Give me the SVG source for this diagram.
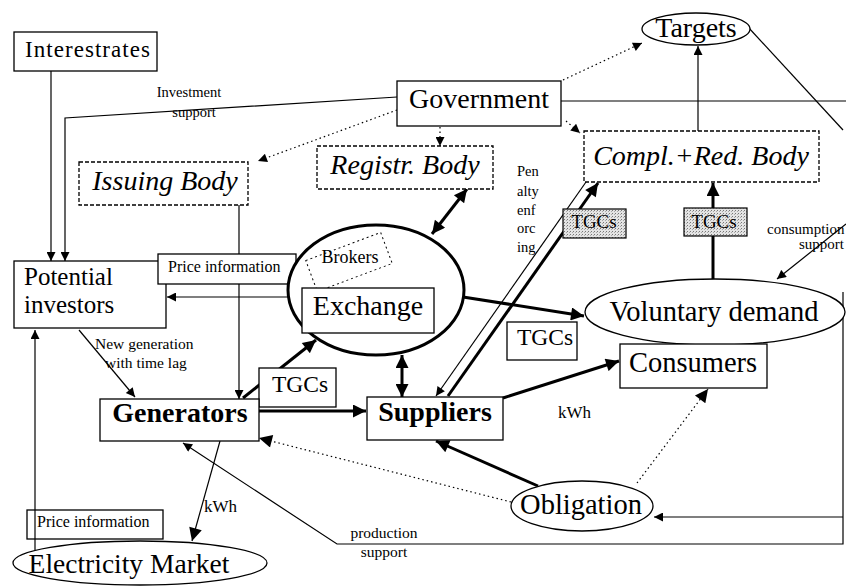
<svg xmlns="http://www.w3.org/2000/svg" width="846" height="586" viewBox="0 0 846 586">
<style>
text{font-family:"Liberation Serif","Times New Roman",serif;fill:#000}
.box{fill:#fff;stroke:#000;stroke-width:1.3}
.dbox{fill:#fff;stroke:#000;stroke-width:1.3;stroke-dasharray:4 2}
.ell{fill:#fff;stroke:#000;stroke-width:1.3}
.thin{fill:none;stroke:#000;stroke-width:1.2}
.thick{fill:none;stroke:#000;stroke-width:3}
.dot{fill:none;stroke:#000;stroke-width:1.2;stroke-dasharray:1.5 3}
.it{font-style:italic}
.b{font-weight:bold}
</style>
<defs>
<marker id="a" viewBox="0 0 10 10" refX="10" refY="5" markerWidth="11" markerHeight="9" markerUnits="userSpaceOnUse" orient="auto-start-reverse"><path d="M0,0 L10,5 L0,10 z"/></marker>
<marker id="A" viewBox="0 0 10 10" refX="10" refY="5" markerWidth="16" markerHeight="13" markerUnits="userSpaceOnUse" orient="auto-start-reverse"><path d="M0,0 L10,5 L0,10 z"/></marker>
<pattern id="sh" width="3" height="3" patternUnits="userSpaceOnUse"><rect width="3" height="3" fill="#e4e4e4"/><rect width="1" height="1" fill="#777"/><rect x="2" y="1" width="1" height="1" fill="#aaa"/></pattern>
</defs>

<g id="connectors">
<line class="thin" x1="51" y1="71" x2="51" y2="261" marker-end="url(#a)"/>
<polyline class="thin" points="397,97 65,118 65,261" marker-end="url(#a)"/>
<line class="dot" x1="397" y1="110" x2="258" y2="161" marker-end="url(#a)"/>
<line class="dot" x1="440" y1="127" x2="440" y2="146" marker-end="url(#a)"/>
<line class="dot" x1="566" y1="121" x2="580" y2="133" marker-end="url(#a)"/>
<line class="dot" x1="563" y1="80" x2="642" y2="43" marker-end="url(#a)"/>
<line class="thin" x1="698" y1="131" x2="698" y2="46" marker-end="url(#a)"/>
<line class="thin" x1="561" y1="101" x2="846" y2="101"/>
<line class="thin" x1="748" y1="27" x2="843" y2="130"/>
<polyline class="thin" points="843,292 843,544 337,544 183,443" marker-end="url(#a)"/>
<line class="thin" x1="843" y1="517" x2="654" y2="517" marker-end="url(#a)"/>
<line class="thin" x1="846" y1="224" x2="777" y2="279" marker-end="url(#a)"/>
<line class="thin" x1="239" y1="205" x2="239" y2="399" marker-end="url(#a)"/>
<line class="thin" x1="79" y1="330" x2="135" y2="397" marker-end="url(#a)"/>
<line class="thin" x1="289" y1="297" x2="167" y2="297" marker-end="url(#a)"/>
<line class="thin" x1="35" y1="550" x2="35" y2="330" marker-end="url(#a)"/>
<line class="thick" x1="243" y1="398" x2="316" y2="340" marker-end="url(#A)"/>
<line class="thick" x1="259" y1="411" x2="366" y2="411" marker-end="url(#A)"/>
<line class="thick" x1="402" y1="355" x2="402" y2="397" marker-start="url(#A)" marker-end="url(#A)"/>
<line class="thick" x1="467" y1="189" x2="432" y2="234" marker-start="url(#A)" marker-end="url(#A)"/>
<line class="thick" x1="463" y1="297" x2="584" y2="316" marker-end="url(#A)"/>
<line class="thin" x1="586" y1="182" x2="436" y2="396" marker-end="url(#a)"/>
<line class="thick" x1="448" y1="396" x2="598" y2="183" marker-end="url(#A)"/>
<line class="thick" x1="713" y1="280" x2="713" y2="183" marker-end="url(#A)"/>
<line class="thick" x1="503" y1="398" x2="619" y2="361" marker-end="url(#A)"/>
<line class="thick" x1="538" y1="486" x2="436" y2="441" marker-end="url(#A)"/>
<line class="dot" x1="637" y1="483" x2="708" y2="389" marker-end="url(#A)"/>
<line class="dot" x1="511" y1="502" x2="259" y2="438" marker-end="url(#A)"/>
<line class="thin" x1="220" y1="441" x2="192" y2="541" marker-end="url(#A)"/>
</g>

<g id="labels">
<text x="189" y="97" font-size="14.5" text-anchor="middle">Investment</text>
<text x="194" y="117" font-size="14.5" text-anchor="middle">support</text>
<text x="95" y="349" font-size="15.5">New generation</text>
<text x="105" y="368" font-size="15.5">with time lag</text>
<text x="517" y="176" font-size="14.5">Pen</text>
<text x="517" y="196" font-size="14.5">alty</text>
<text x="517" y="215" font-size="14.5">enf</text>
<text x="517" y="233" font-size="14.5">orc</text>
<text x="517" y="252" font-size="14.5">ing</text>
<text x="558" y="418" font-size="17">kWh</text>
<text x="204" y="512" font-size="17">kWh</text>
<text x="384" y="538" font-size="15.5" text-anchor="middle">production</text>
<text x="384" y="557" font-size="15.5" text-anchor="middle">support</text>
<text x="767" y="234" font-size="15">consumption</text>
<text x="799" y="249" font-size="15">support</text>
</g>

<g id="interestrates"><rect class="box" x="14" y="32" width="143" height="39"/><text x="25" y="57" font-size="23" textLength="125">Interestrates</text></g>
<g id="government"><rect class="box" x="397" y="81" width="164" height="45"/><text x="479" y="108" font-size="28" text-anchor="middle">Government</text></g>
<g id="targets"><ellipse class="ell" cx="696" cy="29" rx="54" ry="16"/><text x="696" y="37" font-size="28" text-anchor="middle">Targets</text></g>
<g id="issuing-body"><rect class="dbox" x="79" y="162" width="169" height="43"/><text x="165" y="190" font-size="28" class="it" text-anchor="middle">Issuing Body</text></g>
<g id="registr-body"><rect class="dbox" x="317" y="146" width="176" height="43"/><text x="405" y="174" font-size="28" class="it" text-anchor="middle">Registr. Body</text></g>
<g id="compl-red-body"><rect class="dbox" x="584" y="131" width="235" height="51"/><text x="701" y="165" font-size="28" class="it" text-anchor="middle">Compl.+Red. Body</text></g>
<g id="potential-investors"><rect class="box" x="14" y="261" width="152" height="67"/><text x="24" y="285" font-size="25">Potential</text><text x="24" y="313" font-size="25">investors</text></g>
<g id="price-info-top"><rect class="box" x="158" y="254" width="138" height="30"/><text x="168" y="272" font-size="16">Price information</text></g>
<g id="exchange-market"><ellipse cx="376" cy="290" rx="88" ry="65" fill="#fff" stroke="#000" stroke-width="3"/>
<g id="brokers"><rect x="309" y="245.5" width="80" height="33" fill="none" stroke="#000" stroke-width="1" stroke-dasharray="2 3" transform="rotate(-20.5 349 262)"/><text x="350" y="263" font-size="18" text-anchor="middle">Brokers</text></g>
<g id="exchange"><rect class="box" x="302" y="288" width="132" height="45"/><text x="368" y="315" font-size="28" text-anchor="middle">Exchange</text></g></g>
<g id="tgcs-left"><rect class="box" x="259" y="368" width="77" height="39"/><text x="300" y="392" font-size="23.5" text-anchor="middle">TGCs</text></g>
<g id="tgcs-mid"><rect class="box" x="507" y="322" width="70" height="38"/><text x="545" y="345" font-size="23.5" text-anchor="middle">TGCs</text></g>
<g id="tgcs-shaded-1"><rect x="563" y="209" width="63" height="29" fill="url(#sh)" stroke="#000" stroke-width="1.2"/><text x="594" y="228" font-size="19" text-anchor="middle">TGCs</text></g>
<g id="tgcs-shaded-2"><rect x="684" y="208" width="63" height="28" fill="url(#sh)" stroke="#000" stroke-width="1.2"/><text x="714" y="228" font-size="19" text-anchor="middle">TGCs</text></g>
<g id="voluntary-demand"><ellipse class="ell" cx="715" cy="312" rx="130" ry="33"/><text x="714" y="321" font-size="28.5" text-anchor="middle">Voluntary demand</text></g>
<g id="consumers"><rect class="box" x="620" y="344" width="147" height="44"/><text x="693" y="372" font-size="28.5" text-anchor="middle">Consumers</text></g>
<g id="generators"><rect class="box" x="100" y="399" width="159" height="42"/><text x="180" y="422" font-size="28" class="b" text-anchor="middle">Generators</text></g>
<g id="suppliers"><rect class="box" x="367" y="397" width="136" height="43"/><text x="435" y="421" font-size="28" class="b" text-anchor="middle">Suppliers</text></g>
<g id="obligation"><ellipse class="ell" cx="582" cy="506" rx="71" ry="25"/><text x="581" y="514" font-size="28.5" text-anchor="middle">Obligation</text></g>
<g id="price-info-bottom"><rect class="box" x="27" y="510" width="136" height="29" fill-opacity="0"/><text x="37" y="527" font-size="16">Price information</text></g>
<g id="electricity-market"><ellipse class="ell" cx="140" cy="563" rx="127" ry="22"/><text x="129" y="573" font-size="27.5" text-anchor="middle">Electricity Market</text></g>
</svg>
